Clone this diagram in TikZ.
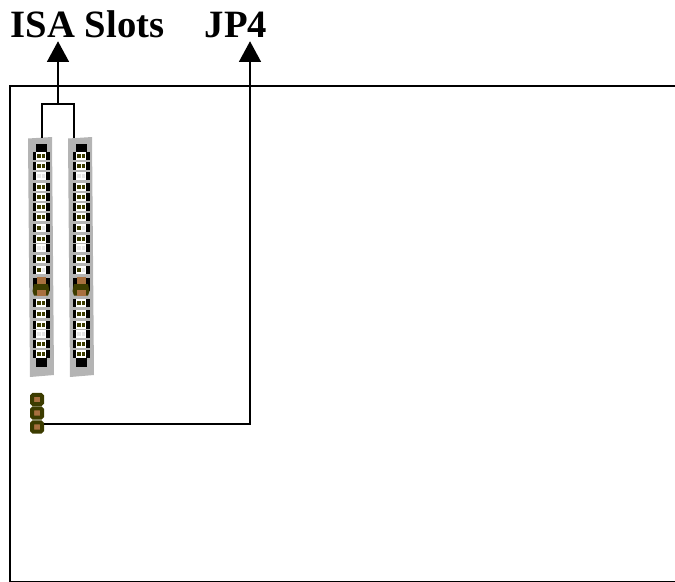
\documentclass[tikz,border=0pt]{standalone}
\usepackage{fontspec}
\setmainfont{Liberation Serif}
\usepackage{xcolor}
\usepackage{tikz}
\usetikzlibrary{arrows.meta}
\definecolor{slotgray}{HTML}{B4B4B4}
\definecolor{pinolive}{HTML}{3C3C00}
\definecolor{pinbrown}{HTML}{A87040}
\tikzset{
  wire/.style={black,line width=1.05pt},
  arrowwire/.style={wire,-{Triangle[length=15.5pt,width=16.5pt]}},
  title/.style={font=\bfseries\fontsize{29}{30}\selectfont,inner sep=3pt,text depth=0pt,anchor=base west},
  jumperpad/.style={draw=pinolive,fill=pinbrown,line width=3pt,rounded corners=1pt,
    minimum width=7.5pt,minimum height=7pt,inner sep=0pt},
}
% one contact of a slot: #1 x, #2 y, #3 left dot, #4 right dot
\newcommand{\pinrow}[4]{
  \fill[black] (#1-8.5,#2-4) rectangle (#1+8.5,#2+4);
  \fill[white] (#1-5,#2-4) rectangle (#1+5,#2+4);
  \fill[#3] (#1-4,#2-2) rectangle (#1-.5,#2+2);
  \fill[#4] (#1+.5,#2-2) rectangle (#1+4,#2+2);
}
% #1 x of the slot centre
\newcommand{\isaslot}[1]{
  \fill[slotgray] (#1-13,138.5) -- (#1+11,137) -- (#1+13,375) -- (#1-11,377) -- cycle;
  \fill[black] (#1-5.5,144) rectangle (#1+5.5,151.5);
  \fill[black] (#1-5.5,357) rectangle (#1+6,367);
  \foreach \rowy in {156,166,187,197,207,217,239,259,303,314,325,344,354}
    \pinrow{#1}{\rowy}{pinolive}{pinolive};
  \foreach \rowy in {176,248,334}
    \pinrow{#1}{\rowy}{gray!20}{gray!20};
  \foreach \rowy in {228,270}
    \pinrow{#1}{\rowy}{pinolive}{gray!20};
  \fill[black] (#1-8.5,278) rectangle (#1+8.5,291);
  \fill[pinolive] (#1-7,284) -- (#1+7,284) -- (#1+8.5,291) -- (#1+7,295.5) -- (#1-7,295.5) -- (#1-8.5,291) -- cycle;
  \fill[pinbrown] (#1-4,277) rectangle (#1+5,284);
  \fill[pinbrown] (#1-4,290) rectangle (#1+5,296);
}
\begin{document}
\begin{tikzpicture}[x=.75pt,y=-.75pt]
  \useasboundingbox (0,0) rectangle (675,582);
  % board outline
  \draw[wire] (676,86) -- (10,86) -- (10,581.7) -- (676,581.7);
  \isaslot{41}
  \isaslot{81}
  \node[jumperpad] (jumperA) at (37,399.5) {};
  \node[jumperpad] (jumperB) at (37,413) {};
  \node[jumperpad] (jumperC) at (37,427) {};
  \node[title] (isa) at (6.5,37) {ISA Slots};
  \node[title] (jp4) at (200.5,37) {JP4};
  \coordinate (slotA) at (42,137.5);
  \coordinate (slotB) at (74,137.5);
  \coordinate (branch) at (58,104);
  \coordinate (jpbend) at (250,424);
  \draw[wire] (slotA) |- (branch) -| (slotB);
  \draw[arrowwire] (branch) -- (branch |- isa.south);
  \draw[arrowwire] (jumperC.east |- jpbend) -- (jpbend) -- (jpbend |- jp4.south);
\end{tikzpicture}
\end{document}
